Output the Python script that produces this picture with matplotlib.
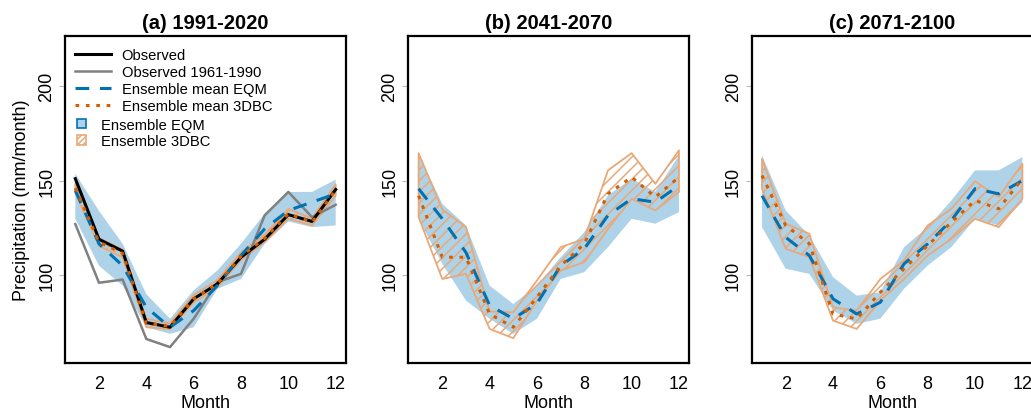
import numpy as np
import matplotlib
matplotlib.use("Agg")
import matplotlib.pyplot as plt
from matplotlib.lines import Line2D
from matplotlib.patches import Patch

plt.rcParams['font.family'] = ['Liberation Sans', 'DejaVu Sans']
plt.rcParams['hatch.linewidth'] = 1.1

months = np.arange(1, 13)
titles = ["(a) 1991-2020", "(b) 2041-2070", "(c) 2071-2100"]

obs = [151, 119, 112.7, 75, 72.5, 87.5, 95.4, 109.5, 119, 132, 128.4, 145.3]
obs_1961_1990 = [127, 96, 97.7, 66.3, 62, 77, 96.3, 100.7, 131.6, 144, 130.7, 137.2]

eqm_mean = [
    [144.8, 116.6, 105, 83, 72.5, 81.3, 94.5, 110.4, 124.5, 134.2, 138.6, 143],
    [145.7, 129.8, 112, 84, 77, 85, 105, 114, 131.6, 140.4, 138.6, 147.4],
    [142, 120, 110.4, 87.5, 79.5, 85.7, 106, 116.6, 129, 145.7, 143, 150],
]
eqm_upper = [
    [153.6, 134, 116.6, 90, 77, 92, 102.5, 116.6, 132.5, 144, 144, 150.5],
    [164, 137.7, 126.3, 94.5, 84.8, 94.5, 109.5, 122.8, 142.2, 151, 144, 163.3],
    [163.3, 134.2, 121, 99, 89.2, 91, 114.8, 125.4, 139.5, 155.4, 155.4, 162.4],
]
eqm_lower = [
    [129.8, 105, 94.5, 72.5, 69, 72.5, 92.8, 98, 116.6, 128.4, 125.4, 126.3],
    [129.8, 106, 86.6, 77, 69, 77, 98, 101.6, 114.8, 129.8, 127.2, 133.3],
    [125.4, 103.4, 100.7, 81.3, 74.3, 77, 92.8, 105.1, 114.8, 129.8, 126.3, 138.6],
]
dbc_mean = [
    [146, 117.5, 111.5, 74.5, 73, 87.5, 95.5, 110, 119.5, 132.5, 128, 145],
    [142, 109.5, 109.5, 79.5, 72.5, 88.4, 105, 116.6, 143, 151.8, 141.3, 151.8],
    [152.7, 126.3, 116.6, 79.5, 76.9, 91, 103.4, 115.7, 128, 139.5, 135.1, 151],
]
dbc_upper = [
    [148.5, 119.5, 113.5, 77, 74.5, 89.5, 97.5, 112, 121.5, 135, 130, 148],
    [164.5, 134.7, 125.4, 80.8, 80.4, 97.2, 114.8, 119.2, 155.4, 164.5, 148.3, 166],
    [161.6, 127.2, 121.9, 83, 81.3, 98, 107.8, 126.3, 135.1, 149.6, 141.3, 158.9],
]
dbc_lower = [
    [143.5, 115.5, 109.5, 72.5, 71.5, 85.5, 93.5, 108, 117.5, 129.8, 126.3, 142],
    [130.7, 98, 100.7, 71.6, 66.7, 86.6, 102.5, 106.9, 124.5, 140.4, 134.2, 144],
    [145.7, 114, 109.5, 76, 71.6, 86.6, 98, 110.4, 119.2, 129.8, 125.4, 140.4],
]

BLUE = '#0072B2'
BLUE_FILL = '#aed3e8'
ORANGE = '#D55E00'
ORANGE_LIGHT = '#e9a878'
GREY = '#808080'

W, H = 1031, 414
fig = plt.figure(figsize=(W / 100, H / 100), dpi=100)
lefts = [64.9, 408.2, 751.6]
aw = 281.2
top, bottom = 37, 364

for i in range(3):
    ax = fig.add_axes([lefts[i] / W, 1 - bottom / H, aw / W, (bottom - top) / H])
    ax.fill_between(months, eqm_lower[i], eqm_upper[i], facecolor=BLUE_FILL,
                    edgecolor='none', zorder=1)
    ax.fill_between(months, dbc_lower[i], dbc_upper[i], facecolor='none',
                    edgecolor=ORANGE_LIGHT, hatch='///', linewidth=1.3, zorder=2)
    if i == 0:
        ax.plot(months, obs_1961_1990, color=GREY, lw=1.8, zorder=3)
        ax.plot(months, obs, color='black', lw=2.2, zorder=4)
    ax.plot(months, eqm_mean[i], color=BLUE, lw=2.2, dashes=(4.5, 3.5), zorder=5)
    ax.plot(months, dbc_mean[i], color=ORANGE, lw=2.2, dashes=(1.2, 2.2), zorder=6)

    ax.set_xlim(0.56, 12.44)
    ax.set_ylim(53.6, 226.4)
    ax.set_xticks([2, 4, 6, 8, 10, 12])
    ax.set_yticks([100, 150, 200])
    ax.set_yticklabels(['100', '150', '200'], rotation=90, va='center')
    ax.tick_params(axis='both', labelsize=13, length=4, width=0.6, color='#aaaaaa', pad=3)
    ax.tick_params(axis='x', length=0, pad=9)
    for s in ax.spines.values():
        s.set_linewidth(1.6)
    ax.set_title(titles[i], fontsize=14.5, fontweight='bold', pad=6)
    ax.set_xlabel('Month', fontsize=13, labelpad=1)
    if i == 0:
        ax.set_ylabel('Precipitation (mm/month)', fontsize=13, labelpad=6)
        h1 = [Line2D([], [], color='black', lw=2.2),
              Line2D([], [], color=GREY, lw=1.8),
              Line2D([], [], color=BLUE, lw=2.2, dashes=(4.5, 3.5)),
              Line2D([], [], color=ORANGE, lw=2.2, dashes=(1.2, 2.2))]
        l1 = ax.legend(h1, ['Observed', 'Observed 1961-1990', 'Ensemble mean EQM',
                            'Ensemble mean 3DBC'],
                       loc='upper left', bbox_to_anchor=(0.0, 0.995), frameon=False,
                       fontsize=10.6, handlelength=2.4, handletextpad=0.75,
                       labelspacing=0.21, borderaxespad=0.3)
        ax.add_artist(l1)
        h2 = [Patch(facecolor=BLUE_FILL, edgecolor=BLUE, lw=1.2),
              Patch(facecolor='none', edgecolor=ORANGE_LIGHT, hatch='//////', lw=1.2)]
        ax.legend(h2, ['Ensemble EQM', 'Ensemble 3DBC'], loc='upper left',
                  bbox_to_anchor=(0.005, 0.782), frameon=False, fontsize=10.6,
                  handlelength=0.65, handleheight=0.65, handletextpad=1.0,
                  labelspacing=0.16, borderaxespad=0.3)

fig.savefig('out.png', dpi=100)
